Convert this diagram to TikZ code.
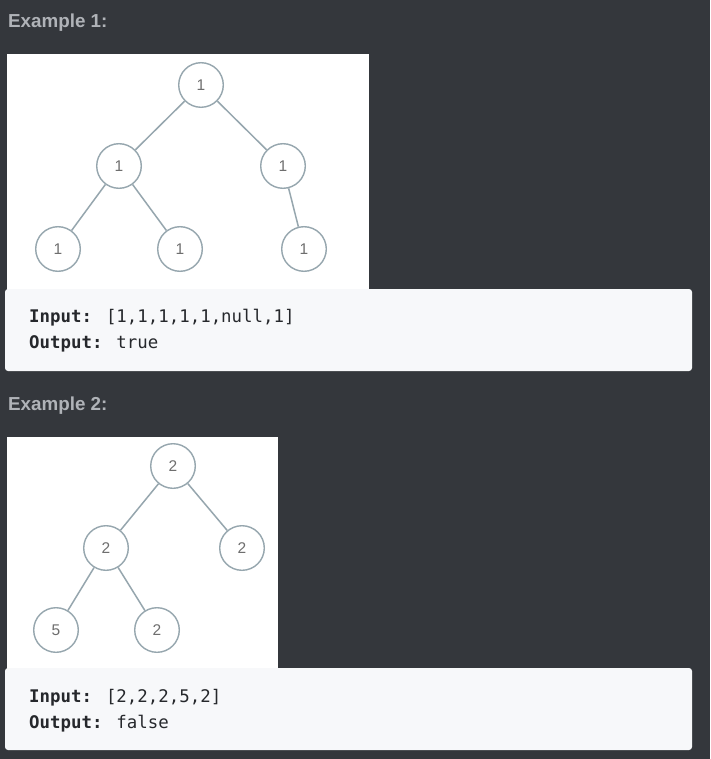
\documentclass[tikz,border=0pt]{standalone}
\usepackage{fontspec}
\newfontfamily\headfont{Liberation Sans}
\newfontfamily\numfont{Liberation Sans}
\newfontfamily\codefont{DejaVu Sans Mono}
\definecolor{bgc}{RGB}{52,55,60}
\definecolor{headc}{RGB}{176,179,184}
\definecolor{codebg}{RGB}{247,248,250}
\definecolor{codetxt}{RGB}{38,40,44}
\definecolor{ringc}{RGB}{150,166,174}
\definecolor{numc}{RGB}{110,110,110}
\tikzset{
  tnode/.style={circle, draw=ringc, line width=1.4pt, fill=white, minimum size=44.6pt, inner sep=0pt,
    font=\numfont\fontsize{15.5}{15.5}\selectfont, text=numc},
  edge/.style={draw=ringc, line width=1.5pt},
  heading/.style={anchor=base west, inner sep=0pt, text=headc, font=\headfont\bfseries\fontsize{18.8}{18.8}\selectfont},
  codeline/.style={anchor=base west, inner sep=0pt, text=codetxt, font=\codefont\fontsize{17.4}{17.4}\selectfont},
  imgbox/.style={fill=white},
  codebox/.style={fill=codebg, rounded corners=3pt}
}
\begin{document}
\begin{tikzpicture}[x=1pt,y=-1pt]
\fill[bgc] (0,0) rectangle (710,759);
\useasboundingbox (0,0) rectangle (710,759);
% Example 1
\node[heading] (h1) at (8,27.5) {Example 1:};
\fill[imgbox] (7,54) rectangle (369,290);
\fill[codebox] (5,289) rectangle (692,371);
\node[tnode] (a1) at (201,85) {1};
\node[tnode] (a2) at (119,166) {1};
\node[tnode] (a3) at (283,166) {1};
\node[tnode] (a4) at (58,249) {1};
\node[tnode] (a5) at (180,249) {1};
\node[tnode] (a6) at (304,249) {1};
\draw[edge] (a1) -- (a2);
\draw[edge] (a1) -- (a3);
\draw[edge] (a2) -- (a4);
\draw[edge] (a2) -- (a5);
\draw[edge] (a3) -- (a6);
\node[codeline] (in1) at (29,322) {\textbf{Input:} [1,1,1,1,1,null,1]};
\node[codeline] (out1) at (29,348) {\textbf{Output:} true};
% Example 2
\node[heading] (h2) at (8,410.7) {Example 2:};
\fill[imgbox] (7,437) rectangle (278,669);
\fill[codebox] (5,668) rectangle (692,750);
\node[tnode] (b1) at (173,466) {2};
\node[tnode] (b2) at (106,548) {2};
\node[tnode] (b3) at (242,548) {2};
\node[tnode] (b4) at (56,630) {5};
\node[tnode] (b5) at (157,630) {2};
\draw[edge] (b1) -- (b2);
\draw[edge] (b1) -- (b3);
\draw[edge] (b2) -- (b4);
\draw[edge] (b2) -- (b5);
\node[codeline] (in2) at (29,702) {\textbf{Input:} [2,2,2,5,2]};
\node[codeline] (out2) at (29,728) {\textbf{Output:} false};
\end{tikzpicture}
\end{document}
